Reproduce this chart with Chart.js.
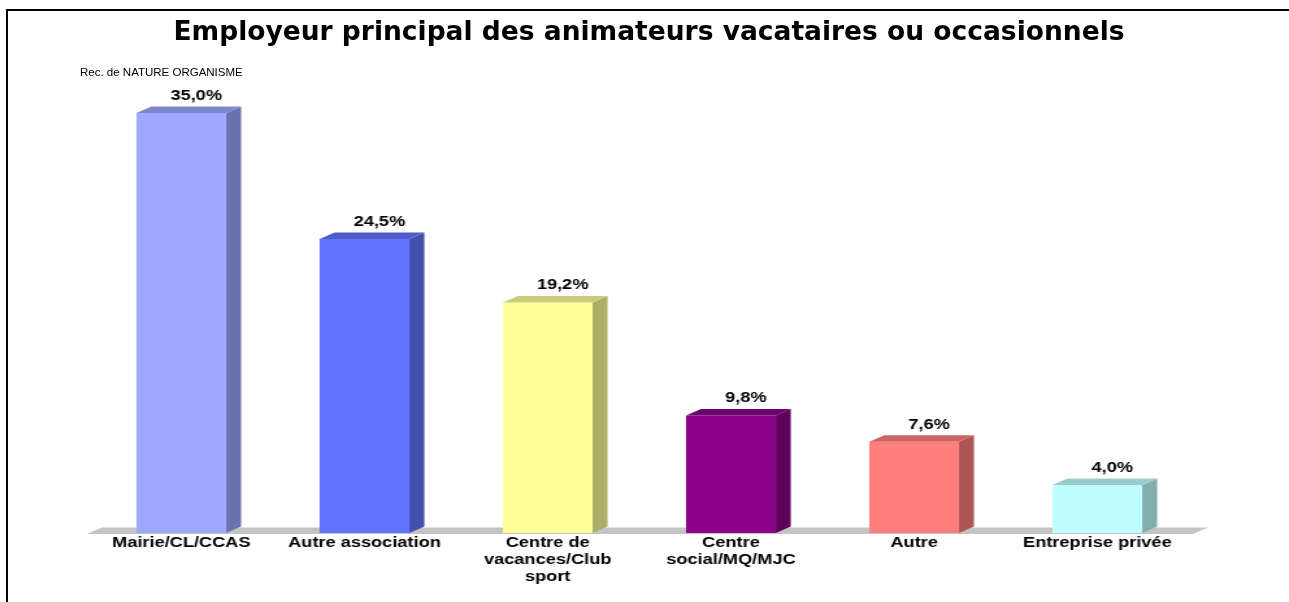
<!DOCTYPE html>
<html>
<head>
<meta charset="utf-8">
<script src="https://cdn.jsdelivr.net/npm/chart.js@4.4.1/dist/chart.umd.min.js"></script>
<style>
    body { margin: 0; background: #fff; }
    #wrap { position: relative; width: 1289px; height: 602px; overflow: hidden; }
    #frame { position: absolute; left: 6px; top: 9px; width: 1300px; height: 610px;
             border-left: 2px solid #000; border-top: 2px solid #000; }
    #title { position: absolute; left: 0; width: 1298px; top: 16px; text-align: center;
             font: bold 26.5px 'DejaVu Sans'; line-height: 30px; color: #000; }
    #sub   { position: absolute; left: 80px; top: 66px; font: 11.5px 'Liberation Sans', Arial; color: #000; }
    #chart { position: absolute; left: 0; top: 0; }
</style>
</head>
<body>
<div id="wrap">
    <!-- the original picture is stretched sideways, so the canvas is too -->
    <canvas id="chart" width="992" height="602" style="width:1289px;height:602px"></canvas>
    <div id="frame"></div>
    <div id="title">Employeur principal des animateurs vacataires ou occasionnels</div>
    <div id="sub">Rec. de NATURE ORGANISME</div>
</div>
<script>
const categories = [
    'Mairie/CL/CCAS',
    'Autre association',
    ['Centre de', 'vacances/Club', 'sport'],
    ['Centre', 'social/MQ/MJC'],
    'Autre',
    'Entreprise privée'
];
const values    = [35.0, 24.5, 19.2, 9.8, 7.6, 4.0];
const barColors = ['#9DA8FF', '#6074FF', '#FFFF99', '#880088', '#FF7F7F', '#BFFFFF'];

const DX = 11.5;   // depth of the bars, canvas px
const DY = 6.5;

function shade(hex, f) {
    const n = parseInt(hex.slice(1), 16);
    const r = Math.round(((n >> 16) & 255) * f);
    const g = Math.round(((n >> 8) & 255) * f);
    const b = Math.round((n & 255) * f);
    return `rgb(${r},${g},${b})`;
}

const bars3d = {
    id: 'bars3d',
    beforeDatasetsDraw(chart) {
        const { ctx, chartArea: a } = chart;
        const y0 = a.bottom + 1;
        ctx.save();
        ctx.fillStyle = '#C4C4C4';
        ctx.beginPath();
        ctx.moveTo(a.left - 2, y0);
        ctx.lineTo(a.right + 3, y0);
        ctx.lineTo(a.right + 3 + DX, y0 - DY);
        ctx.lineTo(a.left - 2 + DX, y0 - DY);
        ctx.closePath();
        ctx.fill();
        ctx.restore();
    },
    afterDatasetsDraw(chart) {
        const { ctx } = chart;
        const meta = chart.getDatasetMeta(0);
        ctx.save();
        meta.data.forEach((bar, i) => {
            const { x, y, base, width } = bar.getProps(['x', 'y', 'base', 'width'], true);
            const l = x - width / 2, r = x + width / 2;
            // side face
            ctx.fillStyle = shade(barColors[i], 0.68);
            ctx.beginPath();
            ctx.moveTo(r, y);
            ctx.lineTo(r + DX, y - DY);
            ctx.lineTo(r + DX, base - DY);
            ctx.lineTo(r, base);
            ctx.closePath();
            ctx.fill();
            // top face
            ctx.fillStyle = shade(barColors[i], 0.8);
            ctx.beginPath();
            ctx.moveTo(l, y);
            ctx.lineTo(r, y);
            ctx.lineTo(r + DX, y - DY);
            ctx.lineTo(l + DX, y - DY);
            ctx.closePath();
            ctx.fill();
            // value label
            ctx.fillStyle = '#000';
            ctx.font = "bold 14px 'Liberation Sans', Arial";
            ctx.textAlign = 'center';
            ctx.textBaseline = 'middle';
            ctx.fillText(values[i].toFixed(1).replace('.', ',') + '%', x + DX, y - 17);
        });
        ctx.restore();
    }
};

new Chart(document.getElementById('chart'), {
    type: 'bar',
    data: {
        labels: categories,
        datasets: [{
            data: values,
            backgroundColor: barColors,
            borderWidth: 0,
            categoryPercentage: 1.0,
            barPercentage: 0.49
        }]
    },
    options: {
        responsive: false,
        animation: false,
        layout: { padding: { left: 69, right: 77, top: 77, bottom: 0 } },
        plugins: { legend: { display: false }, tooltip: { enabled: false }, title: { display: false } },
        scales: {
            x: {
                grid: { display: false, drawTicks: false },
                border: { display: false },
                ticks: {
                    color: '#000',
                    font: { family: "'Liberation Sans', Arial", size: 14, weight: 'bold' },
                    padding: 2,
                    maxRotation: 0,
                    autoSkip: false
                },
                afterFit(scale) { scale.height = 69; }
            },
            y: { display: false, min: 0, max: 38 }
        }
    },
    plugins: [bars3d]
});
</script>
</body>
</html>
